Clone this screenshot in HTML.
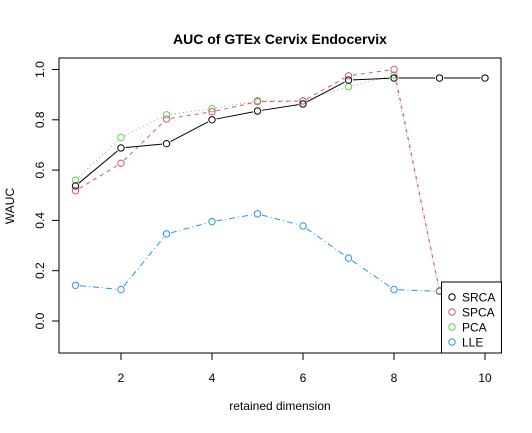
<!DOCTYPE html>
<html><head><meta charset="utf-8"><style>
body{margin:0;background:#fff;}
svg text{font-family:"Liberation Sans",Arial,sans-serif;}
</style></head><body>
<svg width="532" height="428" viewBox="0 0 532 428" id="chart">
<text x="280" y="44" text-anchor="middle" font-size="14" font-weight="bold">AUC of GTEx Cervix Endocervix</text>
<text x="280" y="410" text-anchor="middle" font-size="12">retained dimension</text>
<text transform="translate(14,206) rotate(-90)" text-anchor="middle" font-size="12">WAUC</text>
<rect x="59" y="58" width="442" height="295" fill="none" stroke="#000" stroke-width="1"/>
<g id="axes"></g>
<g id="series"></g>
<g>
<rect x="441.5" y="282" width="60" height="71" fill="#fff" stroke="#000" stroke-width="1"/>
<circle cx="452" cy="297" r="3.2" fill="none" stroke="#000"/>
<text x="462" y="301.5" font-size="12">SRCA</text>
<circle cx="452" cy="312" r="3.2" fill="none" stroke="#DF536B"/>
<text x="462" y="316.5" font-size="12">SPCA</text>
<circle cx="452" cy="327" r="3.2" fill="none" stroke="#61D04F"/>
<text x="462" y="331.5" font-size="12">PCA</text>
<circle cx="452" cy="342" r="3.2" fill="none" stroke="#2297E6"/>
<text x="462" y="346.5" font-size="12">LLE</text>
</g>
</svg>
<script>
const dims = [1,2,3,4,5,6,7,8,9,10];
const srca = [0.537,0.688,0.705,0.800,0.835,0.863,0.958,0.966,0.966,0.966];
const spca = [0.518,0.627,0.803,0.832,0.872,0.875,0.975,1.000,0.120,0.130];
const pca  = [0.560,0.730,0.820,0.844,0.876,0.875,0.932,0.978,0.120,0.140];
const lle  = [0.142,0.125,0.346,0.395,0.426,0.378,0.250,0.125,0.118,0.140];
const xTicks = [2,4,6,8,10];
const yTicks = [0.0,0.2,0.4,0.6,0.8,1.0];
const NS='http://www.w3.org/2000/svg';
function X(v){return 75.5+(v-1)*45.5;}
function Y(v){return 321-v*251.5;}
function mk(t,a){const e=document.createElementNS(NS,t);for(const k in a)e.setAttribute(k,a[k]);return e;}
const axes=document.getElementById('axes');
axes.appendChild(mk('line',{x1:X(2),x2:X(10),y1:353,y2:353,stroke:'#000'}));
xTicks.forEach(t=>{
  const l=mk('line',{x1:X(t),x2:X(t),y1:353,y2:360,stroke:'#000'});
  
  
  axes.appendChild(l);
  const tx=mk('text',{x:X(t),y:382,'text-anchor':'middle','font-size':12});
  tx.textContent=t;
  
  
  axes.appendChild(tx);
});
axes.appendChild(mk('line',{x1:59,x2:59,y1:Y(0),y2:Y(1),stroke:'#000'}));
yTicks.forEach(t=>{
  const l=mk('line',{x1:52,x2:59,y1:Y(t),y2:Y(t),stroke:'#000'});
  
  
  axes.appendChild(l);
  const tx=mk('text',{transform:`translate(44,${Y(t)}) rotate(-90)`,'text-anchor':'middle','font-size':12});
  tx.textContent=t.toFixed(1);
  
  
  axes.appendChild(tx);
});
const sg=document.getElementById('series');
function draw(vals,color,dash,name){
  const g=mk('g',{});
  
  
  for(let i=0;i<vals.length-1;i++){
    const x1=X(dims[i]),y1=Y(vals[i]),x2=X(dims[i+1]),y2=Y(vals[i+1]);
    const d=Math.hypot(x2-x1,y2-y1),s=4.5/d;
    if(d<10)continue;
    const a={x1:x1+(x2-x1)*s,y1:y1+(y2-y1)*s,x2:x2-(x2-x1)*s,y2:y2-(y2-y1)*s,stroke:color,'stroke-width':1};
    if(dash)a['stroke-dasharray']=dash;
    g.appendChild(mk('line',a));
  }
  vals.forEach((v,i)=>{
    const c=mk('circle',{cx:X(dims[i]),cy:Y(v),r:3.2,fill:'none',stroke:color});
    
    
    g.appendChild(c);
  });
  sg.appendChild(g);
}
draw(lle,'#2297E6','6 3 1 3','lle');
draw(pca,'#61D04F','1 3','pca');
draw(spca,'#DF536B','4 4','spca');
draw(srca,'#000',null,'srca');
</script>
</body></html>
